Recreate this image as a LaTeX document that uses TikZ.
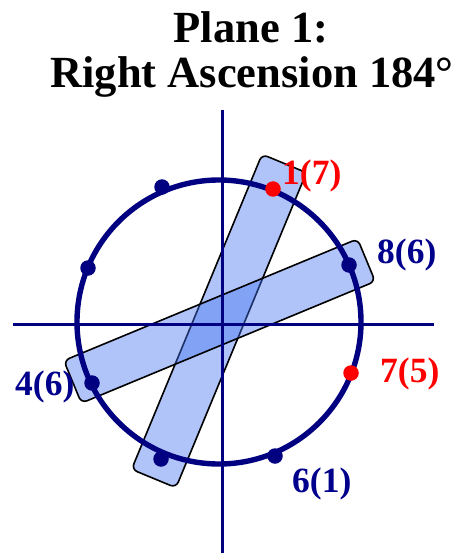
\documentclass[tikz,border=0pt]{standalone}
\usepackage{fontspec}
\setmainfont{Liberation Serif}
\definecolor{navyc}{RGB}{0,0,128}
\definecolor{labnavy}{RGB}{0,0,140}
\definecolor{redc}{RGB}{255,0,0}
\definecolor{rectblue}{RGB}{67,115,243}
\tikzset{
  band/.style={draw=black, line width=1.6pt, fill=rectblue, fill opacity=0.42, rounded corners=6pt, rectangle, inner sep=0pt},
  axisline/.style={draw=navyc, line width=3pt},
  ringline/.style={draw=navyc, line width=5.4pt},
  dotnavy/.style={circle, fill=navyc, inner sep=0pt, minimum size=15.5pt},
  dotred/.style={circle, fill=redc, inner sep=0pt, minimum size=15.5pt},
  titletext/.style={font=\fontsize{44.5}{50}\selectfont\bfseries, inner sep=0pt, anchor=base},
  labtext/.style={font=\fontsize{35.5}{40}\selectfont\bfseries, inner sep=0pt, anchor=base west}
}
\begin{document}
\begin{tikzpicture}[x=1pt,y=-1pt]
\useasboundingbox (0,0) rectangle (458,553);
\fill[white] (0,0) rectangle (458,553);
% title
\node[titletext] (t1) at (251,43) {Plane 1:};
\node[titletext] (t2) at (252,88) {Right Ascension 184°};
% bands
\node[band, rotate=67.5, minimum width=341pt, minimum height=48pt] (bandA) at (219,321) {};
\node[band, rotate=22.5, minimum width=318pt, minimum height=46pt] (bandB) at (219.5,321) {};
% axes
\coordinate (hl) at (13,324);
\coordinate (hr) at (434,324);
\coordinate (vt) at (222,110);
\coordinate (vb) at (222,553);
\draw[axisline] (hl) -- (hr);
\draw[axisline] (vt) -- (vb);
% circle
\coordinate (c) at (219,322);
\draw[ringline] (c) circle[radius=142];
% dots
\node[dotred]  (p1) at (273,189) {};
\node[dotnavy] (p8) at (349,265) {};
\node[dotred]  (p7) at (351,373) {};
\node[dotnavy] (p6) at (275,456) {};
\node[dotnavy] (p5) at (161,459) {};
\node[dotnavy] (p4) at (92,383) {};
\node[dotnavy] (p3) at (88,268) {};
\node[dotnavy] (p2) at (162,187) {};
% labels
\node[labtext, text=redc]    (l1) at (282,185) {1(7)};
\node[labtext, text=labnavy] (l8) at (377,263) {8(6)};
\node[labtext, text=redc]    (l7) at (380,382) {7(5)};
\node[labtext, text=labnavy] (l6) at (292,492) {6(1)};
\node[labtext, text=labnavy] (l4) at (15,395) {4(6)};
\end{tikzpicture}
\end{document}
